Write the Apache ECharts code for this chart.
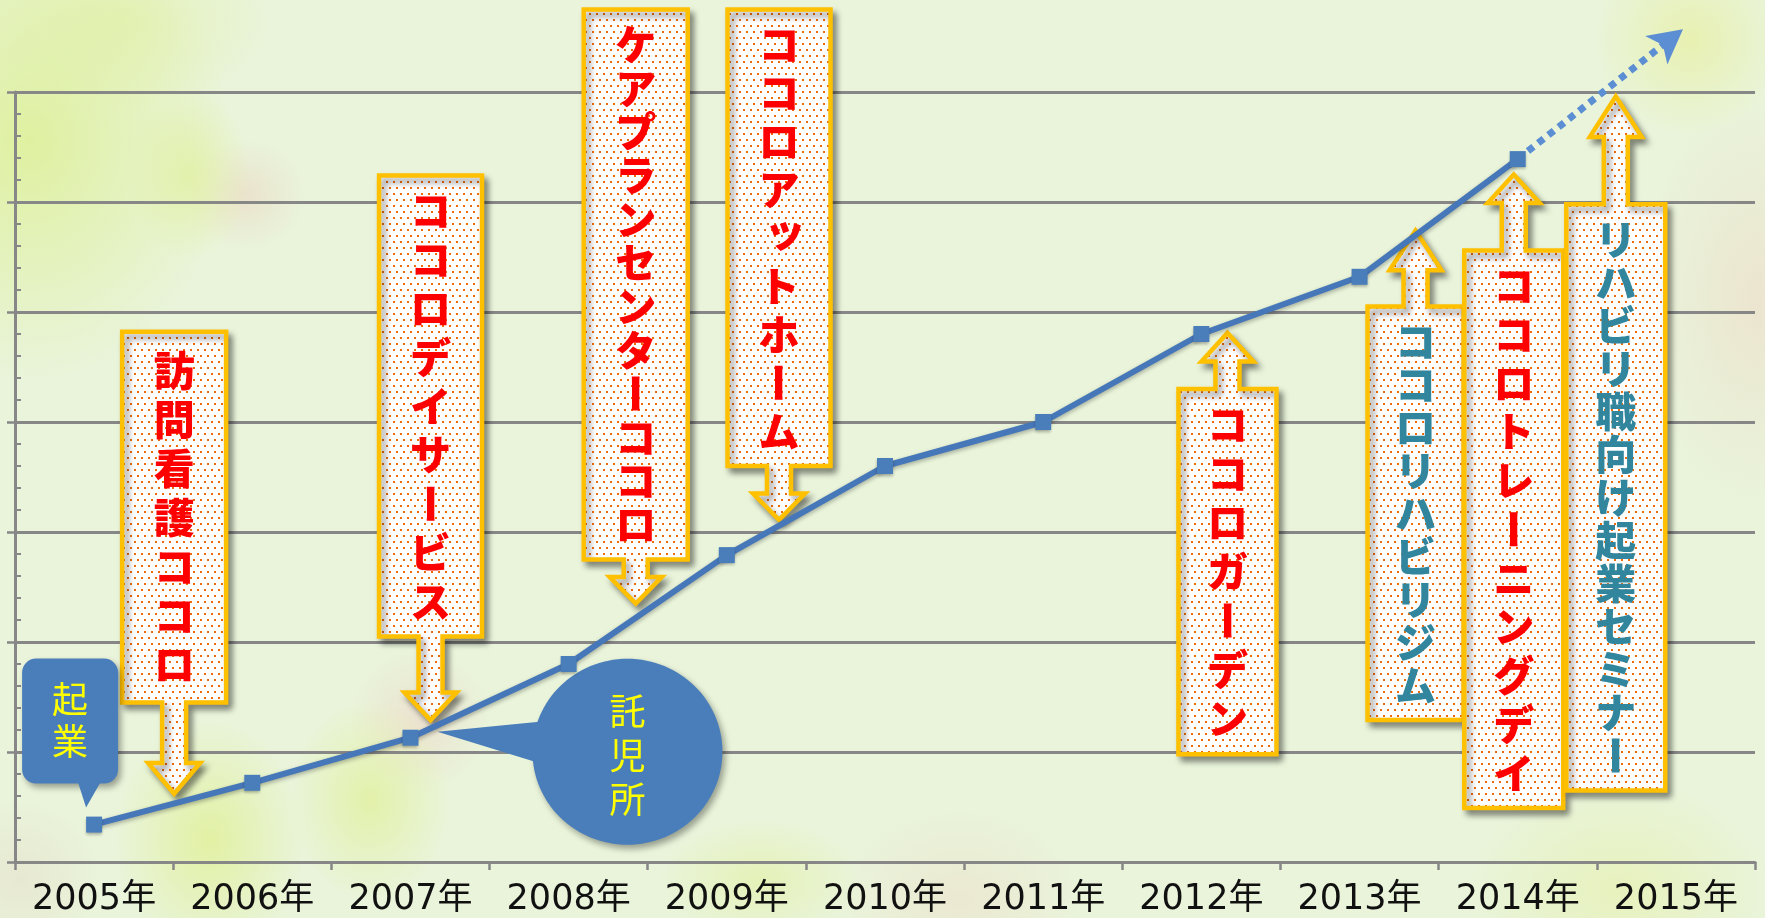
<!DOCTYPE html>
<html lang="ja">
<head>
<meta charset="utf-8">
<title>ココロのあゆみ</title>
<script src="https://cdn.jsdelivr.net/npm/echarts@6.0.0/dist/echarts.min.js"></script>
<style>
  html, body { margin: 0; padding: 0; }
  #chart {
    width: 1765px;
    height: 918px;
    background:
      radial-gradient(ellipse 200px 240px at 30px 140px, rgba(221,240,150,0.85), rgba(221,240,150,0)),
      radial-gradient(ellipse 150px 90px at 120px 20px, rgba(226,240,170,0.7), rgba(226,240,170,0)),
      radial-gradient(ellipse 60px 85px at 190px 175px, rgba(226,240,165,0.8), rgba(226,240,165,0)),
      radial-gradient(ellipse 60px 55px at 245px 195px, rgba(236,214,196,0.6), rgba(236,214,196,0)),
      radial-gradient(ellipse 95px 120px at 210px 840px, rgba(224,240,150,0.8), rgba(224,240,150,0)),
      radial-gradient(ellipse 80px 100px at 370px 800px, rgba(224,240,150,0.7), rgba(224,240,150,0)),
      radial-gradient(ellipse 70px 70px at 420px 720px, rgba(238,214,200,0.6), rgba(238,214,200,0)),
      radial-gradient(ellipse 100px 60px at 760px 880px, rgba(226,240,160,0.6), rgba(226,240,160,0)),
      radial-gradient(ellipse 120px 90px at 960px 900px, rgba(238,220,200,0.5), rgba(238,220,200,0)),
      radial-gradient(ellipse 95px 95px at 1690px 40px, rgba(232,240,170,0.85), rgba(232,240,170,0)),
      radial-gradient(ellipse 120px 200px at 1760px 300px, rgba(238,218,200,0.6), rgba(238,218,200,0)),
      radial-gradient(ellipse 150px 110px at 1620px 890px, rgba(230,240,170,0.6), rgba(230,240,170,0)),
      radial-gradient(ellipse 80px 80px at 20px 880px, rgba(230,220,200,0.5), rgba(230,220,200,0)),
      #e9f4da;
  }
</style>
</head>
<body>
<div id="chart"></div>
<script>
// 年
const years = ['2005年', '2006年', '2007年', '2008年', '2009年', '2010年', '2011年', '2012年', '2013年', '2014年', '2015年'];
// 実績
const growth = [3.4, 7.2, 11.3, 18.0, 27.9, 36.0, 40.0, 48.0, 53.2, 63.9, null];
// 見込み（点線）
const outlook = [null, null, null, null, null, null, null, null, null, 63.9, 75.2];
// 縦軸の目盛り
const yMin = 0;
const yMax = 70;
const yStep = 10;
const yMinorStep = 2;
// 矢印の文言
const noteTexts = ['訪問看護ココロ', 'ココロデイサービス', 'ケアプランセンターココロ', 'ココロアットホーム',
  'ココロガーデン', 'ココロリハビリジム', 'ココロトレーニングデイ', 'リハビリ職向け起業セミナー'];
// 吹き出しの文言
const bubbleTexts = ['起業', '託児所'];

const FONT = '"Noto Sans CJK JP", "Noto Sans", sans-serif';
const GRAY = '#878787';
const BLUE = '#4a7ebb';
const RED = '#ff0000';
const TEAL = '#31859c';

// 矢印の配置（at: カテゴリ位置, top/bottom/base/tip: 縦軸の値）
const noteLayout = [
  { at: 0.506, w: 104, top: 48.2, bottom: 14.5, base: 9.0, tip: 6.2, dir: 'down', color: RED },
  { at: 2.127, w: 103, top: 62.4, bottom: 20.5, base: 15.4, tip: 12.9, dir: 'down', color: RED },
  { at: 3.424, w: 104, top: 77.5, bottom: 27.5, base: 25.9, tip: 23.5, dir: 'down', color: RED },
  { at: 4.33, w: 103, top: 77.5, bottom: 36.0, base: 33.5, tip: 31.1, dir: 'down', color: RED },
  { at: 7.165, w: 98, top: 43.0, bottom: 9.8, base: 45.5, tip: 48.1, dir: 'up', color: RED },
  { at: 8.354, w: 96, top: 50.5, bottom: 12.9, base: 53.8, tip: 57.4, dir: 'up', color: TEAL },
  { at: 8.975, w: 99, top: 55.6, bottom: 4.9, base: 59.9, tip: 62.5, dir: 'up', color: RED },
  { at: 9.62, w: 99, top: 59.8, bottom: 6.5, base: 65.9, tip: 69.6, dir: 'up', color: TEAL },
];

const chart = echarts.init(document.getElementById('chart'));

function outlookData(rot, shift) {
  return outlook.map((v, i) => {
    if (v == null) return null;
    if (i === outlook.length - 1) {
      return { value: v, symbol: 'arrow', symbolSize: [27, 34], symbolRotate: rot, symbolOffset: shift };
    }
    return { value: v, symbol: 'none' };
  });
}

const option = {
  animation: false,
  grid: { left: 15, right: 10, top: 92, bottom: 56, containLabel: false, outerBoundsMode: 'none' },
  xAxis: {
    type: 'category',
    data: years,
    boundaryGap: true,
    axisLine: { lineStyle: { color: GRAY, width: 3 } },
    axisTick: { show: true, interval: 0, length: 8, lineStyle: { color: GRAY, width: 2.5 } },
    axisLabel: {
      interval: 0, color: '#111', fontSize: 35, margin: 20,
      fontFamily: '"DejaVu Sans", "Noto Sans CJK JP", sans-serif',
    },
    splitLine: { show: false },
  },
  yAxis: [
    {
      type: 'value',
      min: yMin,
      max: yMax,
      interval: yStep,
      axisLine: { show: true, lineStyle: { color: GRAY, width: 3 } },
      axisTick: { show: true, length: 8, lineStyle: { color: GRAY, width: 2.5 } },
      axisLabel: { show: false },
      splitLine: { show: true, lineStyle: { color: GRAY, width: 3 } },
    },
    {
      type: 'value',
      min: yMin,
      max: yMax,
      interval: yMinorStep,
      position: 'left',
      axisLine: { show: false },
      axisTick: { show: true, inside: true, length: 6, lineStyle: { color: GRAY, width: 2 } },
      axisLabel: { show: false },
      splitLine: { show: false },
    },
  ],
  series: [
    {
      name: '実績',
      type: 'line',
      data: growth,
      symbol: 'rect',
      symbolSize: 16,
      itemStyle: { color: '#4a7ebb', shadowColor: 'rgba(0,0,0,0.3)', shadowBlur: 3, shadowOffsetY: 2 },
      lineStyle: { color: '#4677b8', width: 6, shadowColor: 'rgba(0,0,0,0.3)', shadowBlur: 4, shadowOffsetY: 2 },
      z: 5,
    },
    {
      name: '見込み',
      type: 'line',
      data: outlookData(0, [0, 0]),
      clip: false,
      itemStyle: { color: '#5b8ed2' },
      lineStyle: { color: '#5b8ed2', width: 7, type: [7, 6], cap: 'butt' },
      z: 5,
    },
  ],
};
chart.setOption(option);

// 軸の値からピクセルへ
const o = chart.convertToPixel({ gridIndex: 0 }, [0, 0]);
const u = chart.convertToPixel({ gridIndex: 0 }, [1, 10]);
const px = (i) => o[0] + (u[0] - o[0]) * i;
const py = (v) => o[1] + (u[1] - o[1]) * v / 10;

// 水玉模様
function dotPattern() {
  const c = document.createElement('canvas');
  c.width = 7;
  c.height = 12;
  const g = c.getContext('2d');
  g.fillStyle = '#ffffff';
  g.fillRect(0, 0, 7, 12);
  g.fillStyle = '#ec6c0c';
  g.fillRect(1, 1, 2, 2);
  g.fillRect(4, 7, 2, 2);
  return c;
}
const dots = { image: dotPattern(), repeat: 'repeat' };

function verticalText(str, cx, cy, step, color, size, weight) {
  const chars = Array.from(str);
  const n = chars.length;
  return chars.map((ch, k) => {
    const small = 'ッィャュョァ'.includes(ch);
    return {
      type: 'text',
      x: cx + (small ? 6 : 0),
      y: cy + (k - (n - 1) / 2) * step + (small ? -6 : 0),
      rotation: ch === 'ー' ? -Math.PI / 2 : 0,
      z: 1,
      style: {
        text: ch, fill: color, fontSize: size, fontWeight: weight, fontFamily: FONT,
        align: 'center', verticalAlign: 'middle',
      },
    };
  });
}

function arrowPoints(c) {
  const x = px(c.at);
  const half = c.w / 2, s = 12, h = 26;
  const top = py(c.top), bot = py(c.bottom), base = py(c.base), tip = py(c.tip);
  if (c.dir === 'down') {
    return [[x - half, top], [x + half, top], [x + half, bot], [x + s, bot], [x + s, base], [x + h, base],
      [x, tip], [x - h, base], [x - s, base], [x - s, bot], [x - half, bot]];
  }
  return [[x - half, bot], [x - half, top], [x - s, top], [x - s, base], [x - h, base], [x, tip],
    [x + h, base], [x + s, base], [x + s, top], [x + half, top], [x + half, bot]];
}

const shadow = { shadowBlur: 6, shadowOffsetX: 4, shadowOffsetY: 5, shadowColor: 'rgba(0,0,0,0.4)' };
const elements = [];

noteLayout.forEach((c, i) => {
  elements.push({
    type: 'polygon',
    z: 1,
    shape: { points: arrowPoints(c) },
    style: Object.assign({ fill: dots, stroke: '#ffc000', lineWidth: 4.5, lineJoin: 'miter' }, shadow),
  });
  const top = py(c.top), bot = py(c.bottom);
  const n = Array.from(noteTexts[i]).length;
  const step = Math.min(49, (bot - top - 70) / (n - 1));
  elements.push(...verticalText(noteTexts[i], px(c.at), (top + bot) / 2, step, c.color, 41, 900));
});

// 起業の吹き出し
const a0 = [px(0), py(growth[0])];
const bubbleShadow = { shadowBlur: 6, shadowOffsetX: 3, shadowOffsetY: 4, shadowColor: 'rgba(0,0,0,0.35)' };
elements.push({
  type: 'rect', z: 1,
  shape: { x: a0[0] - 72, y: a0[1] - 166, width: 96, height: 125, r: 14 },
  style: Object.assign({ fill: BLUE }, bubbleShadow),
});
elements.push({
  type: 'polygon', z: 1,
  shape: { points: [[a0[0] - 17, a0[1] - 45], [a0[0] + 8, a0[1] - 45], [a0[0] - 8, a0[1] - 17]] },
  style: { fill: BLUE },
});
elements.push(...verticalText(bubbleTexts[0], a0[0] - 24, a0[1] - 104, 42, '#ffff00', 36, 400));

// 託児所の吹き出し
const a2 = [px(2), py(growth[2])];
elements.push({
  type: 'ellipse', z: 1,
  shape: { cx: a2[0] + 217, cy: a2[1] + 14, rx: 95, ry: 93 },
  style: Object.assign({ fill: BLUE }, bubbleShadow),
});
elements.push({
  type: 'polygon', z: 1,
  shape: { points: [[a2[0] + 27, a2[1] - 6], [a2[0] + 149, a2[1] - 18], [a2[0] + 144, a2[1] + 30]] },
  style: { fill: BLUE },
});
elements.push(...verticalText(bubbleTexts[1], a2[0] + 217, a2[1] + 18, 44, '#ffff00', 36, 400));

// 点線の先の矢印の向き
const pa = chart.convertToPixel({ gridIndex: 0 }, [9, outlook[9]]);
const pb = chart.convertToPixel({ gridIndex: 0 }, [10, outlook[10]]);
const ang = Math.atan2(pa[1] - pb[1], pb[0] - pa[0]);
const rot = ang * 180 / Math.PI - 90;
const shift = [Math.cos(ang) * 9, -Math.sin(ang) * 9];

chart.setOption({
  series: [{}, { data: outlookData(rot, shift) }],
  graphic: { elements: elements },
});
</script>
</body>
</html>
